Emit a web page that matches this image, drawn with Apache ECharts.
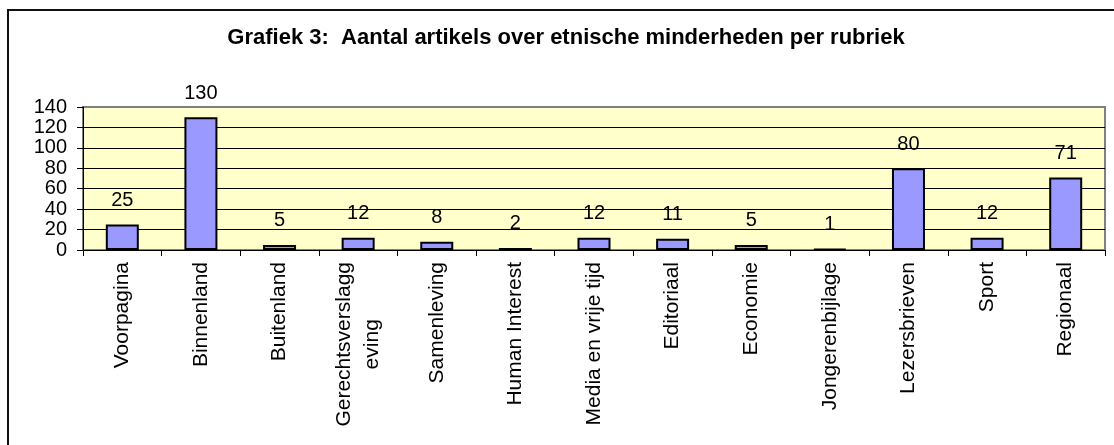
<!DOCTYPE html>
<html>
<head>
<meta charset="utf-8">
<script src="https://cdn.jsdelivr.net/npm/echarts@6/dist/echarts.min.js"></script>
<style>
html,body{margin:0;padding:0;background:#fff;}
#chart{width:1114px;height:445px;}
</style>
</head>
<body>
<div id="chart"></div>
<script>
const titleText = 'Grafiek 3:  Aantal artikels over etnische minderheden per rubriek';
const categories = ['Voorpagina', 'Binnenland', 'Buitenland', 'Gerechtsverslagg\neving', 'Samenleving', 'Human Interest', 'Media en vrije tijd', 'Editoriaal', 'Economie', 'Jongerenbijlage', 'Lezersbrieven', 'Sport', 'Regionaal'];
const values = [25, 130, 5, 12, 8, 2, 12, 11, 5, 1, 80, 12, 71];
const yMin = 0, yMax = 140, yStep = 20;

const FONT = "'Liberation Sans', Arial, sans-serif";
const chart = echarts.init(document.getElementById('chart'), null, {renderer: 'canvas'});
const gridColors = [];
for (let v = yMin; v <= yMax; v += yStep) gridColors.push(v === yMax ? 'rgba(0,0,0,0)' : '#000');

chart.setOption({
  animation: false,
  backgroundColor: '#fff',
  graphic: [
    {type: 'rect', shape: {x: 8, y: 10, width: 1300, height: 700}, style: {fill: 'none', stroke: '#111', lineWidth: 2}, z: 0},
    {type: 'text', x: 566, y: 38, style: {text: titleText, font: 'bold 22px ' + FONT, fill: '#000', textAlign: 'center', textVerticalAlign: 'middle'}, z: 10}
  ],
  grid: {left: 83, right: 9, top: 107, bottom: 195, show: true, backgroundColor: '#FFFFCC', borderColor: '#808080', borderWidth: 2},
  xAxis: {
    type: 'category',
    data: categories,
    boundaryGap: true,
    axisLine: {lineStyle: {color: '#000', width: 1}},
    axisTick: {show: true, length: 6, alignWithLabel: false, lineStyle: {color: '#000'}},
    axisLabel: {
      interval: 0, rotate: 90, margin: 12, color: '#000', fontFamily: FONT, fontSize: 21,
      formatter: v => v.split('\n').map(s => '{c|' + s + '}').join('\n'),
      rich: {c: {align: 'center', fontFamily: FONT, fontSize: 21, lineHeight: 28, color: '#000'}}
    }
  },
  yAxis: {
    type: 'value', min: yMin, max: yMax, interval: yStep,
    axisLine: {show: true, lineStyle: {color: '#000', width: 1}},
    axisTick: {show: true, length: 6, lineStyle: {color: '#000'}},
    axisLabel: {margin: 16, color: '#000', fontFamily: FONT, fontSize: 20},
    splitLine: {show: true, lineStyle: {color: gridColors, width: 1}}
  },
  series: [{
    type: 'bar',
    data: values,
    barWidth: 33,
    itemStyle: {color: '#9999FF', borderColor: '#000', borderWidth: 2},
    label: {show: true, position: 'top', distance: 14, color: '#000', fontFamily: FONT, fontSize: 20}
  }]
});
</script>
</body>
</html>
